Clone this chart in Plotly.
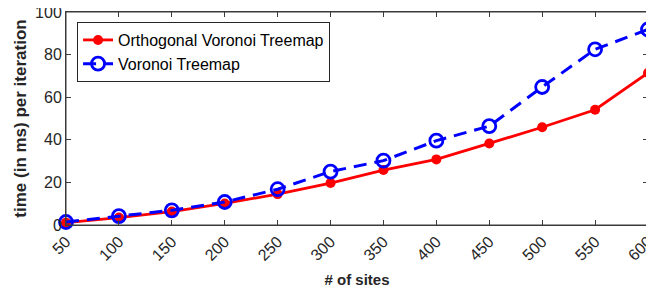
import plotly.graph_objects as go

sites = [50, 100, 150, 200, 250, 300, 350, 400, 450, 500, 550, 600]
orthogonal = [1.1, 3.5, 6.3, 10.1, 14.5, 19.7, 25.8, 30.8, 38.3, 45.9, 54.1, 71.4]
voronoi = [1.4, 4.2, 6.9, 10.8, 16.8, 25.1, 30.2, 39.6, 46.4, 64.8, 82.5, 91.8]
y_ticks = [0, 20, 40, 60, 80, 100]

FONT = "Liberation Sans, Arial"
AX = "#3a3a3a"

fig = go.Figure()
fig.add_trace(go.Scatter(
    x=sites, y=orthogonal, mode="lines+markers", name="Orthogonal Voronoi Treemap",
    line=dict(color="#ff0000", width=2.8),
    marker=dict(symbol="circle", size=10, color="#ff0000"),
    cliponaxis=False,
))
fig.add_trace(go.Scatter(
    x=sites, y=voronoi, mode="lines+markers", name="Voronoi Treemap",
    line=dict(color="#0000ff", width=3, dash="13px,8px"),
    marker=dict(symbol="circle-open", size=13, color="#0000ff", line=dict(width=2.8, color="#0000ff")),
    cliponaxis=False,
))

axis_common = dict(
    showline=True, linecolor=AX, linewidth=1, mirror="allticks",
    ticks="inside", ticklen=5, tickcolor=AX, tickwidth=1, showgrid=False, zeroline=False,
    automargin=False, ticklabeloverflow="allow",
    tickfont=dict(family=FONT, size=16, color="#262626"),
)
fig.update_xaxes(
    range=[50, 600], tickvals=sites, ticktext=[str(s) for s in sites], tickangle=-45,
    title=dict(text="<b># of sites</b>", font=dict(family=FONT, size=15, color="#262626"), standoff=11),
    **axis_common,
)
fig.update_yaxes(
    range=[0, 100], tickvals=y_ticks,
    title=dict(text="<b>time (in ms) per iteration</b>", font=dict(family=FONT, size=17, color="#262626"), standoff=4),
    **axis_common,
)
# frame around the plotting area
fig.add_shape(type="rect", xref="paper", yref="paper", x0=0, x1=1, y0=0, y1=1,
              line=dict(color=AX, width=1), layer="above")
fig.update_layout(
    width=646, height=281,
    margin=dict(l=58, r=6, t=4, b=64, autoexpand=False),
    paper_bgcolor="white", plot_bgcolor="white",
    font=dict(family=FONT, color="#262626"),
    legend=dict(
        x=0.019, y=0.953, xanchor="left", yanchor="top",
        bgcolor="white", bordercolor="#262626", borderwidth=1,
        font=dict(family=FONT, size=16, color="#000000"),
        itemwidth=30, tracegroupgap=0,
    ),
)
fig.write_html("out.html")
